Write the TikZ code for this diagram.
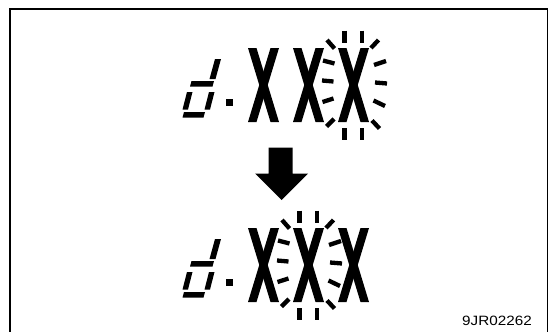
\documentclass[tikz,border=0pt]{standalone}
\usepackage{fontspec}
\setmainfont{Liberation Sans}
\begin{document}
\begin{tikzpicture}[x=1pt,y=-1pt,
  framestyle/.style={line width=1.6pt,black},
  blinkdash/.style={line width=4.3pt,line cap=butt,black},
  bigx/.pic={
    \fill (0,0)--(8.5,0)--(31,74)--(22.5,74)--cycle;
    \fill (22.5,0)--(31,0)--(8.5,74)--(0,74)--cycle;
  },
  segd/.pic={
    \fill (215,59)--(221,59)--(215.5,79)--(209.5,79)--cycle;
    \fill (191.5,81)--(214,81)--(212.5,86.5)--(190,86.5)--cycle;
    \fill (187,92)--(192.5,92)--(188,109.5)--(182.5,109.5)--cycle;
    \fill (209,92)--(214.5,92)--(210,109.5)--(204.5,109.5)--cycle;
    \fill (184,112)--(205,112)--(203.5,117.5)--(182.5,117.5)--cycle;
    \fill (226,98.5) rectangle (232.5,105.5);
  },
  blink/.pic={
    \draw[blinkdash] (344.5,30.5)--(344.5,42.5);
    \draw[blinkdash] (362,30.5)--(362,42.5);
    \draw[blinkdash] (344.5,128)--(344.5,140);
    \draw[blinkdash] (362,128)--(362,140);
    \draw[blinkdash] (327,40)--(334.5,48.5);
    \draw[blinkdash] (378.5,40)--(371,48);
    \draw[blinkdash] (323,60.5)--(334.5,63.5);
    \draw[blinkdash] (322,80.5)--(333.5,81.5);
    \draw[blinkdash] (322.5,102)--(333.5,98.5);
    \draw[blinkdash] (326.5,126.5)--(334,119);
    \draw[blinkdash] (374,65)--(386,61);
    \draw[blinkdash] (375,82.5)--(387,83.5);
    \draw[blinkdash] (373.5,100.5)--(385,106);
    \draw[blinkdash] (372,120.5)--(379.5,128.5);
  }]
\useasboundingbox (0,0) rectangle (555,332);
\fill[white] (0,0) rectangle (555,332);
\clip (0,0) rectangle (555,332);
% frame
\draw[framestyle] (10,340) -- (10,9) -- (547.5,9) -- (547.5,340);
% top row
\pic at (0,0) {segd};
\pic at (248,48) {bigx};
\pic at (293,48) {bigx};
\pic at (338,48) {bigx};
\pic at (0,0) {blink};
% arrow
\fill (268.5,147.5) -- (292.5,147.5) -- (292.5,173.5) -- (308,173.5)
      -- (281.5,200) -- (255,173.5) -- (268.5,173.5) -- cycle;
% bottom row
\pic at (0,180) {segd};
\pic at (248,228) {bigx};
\pic at (293,228) {bigx};
\pic at (338,228) {bigx};
\pic at (-45,180) {blink};
% code
\node[anchor=base west,inner sep=0pt,font=\fontsize{13.5}{15}\selectfont] (code) at (462,325.5) {\scalebox{1.13}[1]{9JR02262}};
\end{tikzpicture}
\end{document}
